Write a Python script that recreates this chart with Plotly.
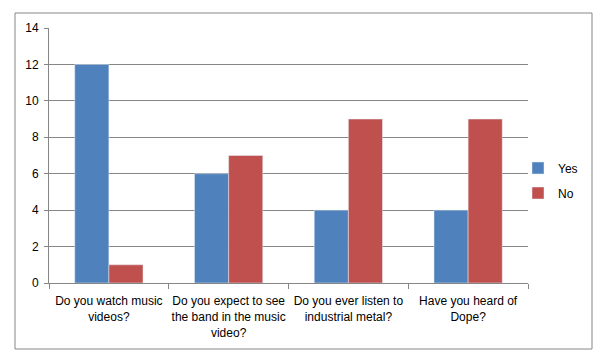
import plotly.graph_objects as go

categories = ["Do you watch music<br>videos?",
              "Do you expect to see<br>the band in the music<br>video?",
              "Do you ever listen to<br>industrial metal?",
              "Have you heard of<br>Dope?"]
yes_values = [12, 6, 4, 4]
no_values = [1, 7, 9, 9]
y_ticks = [0, 2, 4, 6, 8, 10, 12, 14]

W, H = 604, 361
L, R, T, B = 49, 528, 28, 283
pw, ph = R - L, B - T

fig = go.Figure()
fig.add_trace(go.Bar(name="Yes", x=categories, y=yes_values, marker_color="#4F81BD",
                     legendgroup="yes"))
fig.add_trace(go.Bar(name="No", x=categories, y=no_values, marker_color="#C0504D",
                     legendgroup="no"))

font = dict(family="Liberation Sans, Arial, sans-serif", size=12, color="#000000")

fig.update_layout(
    width=W, height=H,
    margin=dict(l=L, r=W - R, t=T, b=H - B, pad=0, autoexpand=False),
    paper_bgcolor="white", plot_bgcolor="white",
    barmode="group", bargap=0.43, bargroupgap=0,
    font=font,
    showlegend=True,
    legend=dict(x=(518 - L) / pw, y=(B - 180.5) / ph, xanchor="left", yanchor="middle",
                font=dict(size=12), itemwidth=30, tracegroupgap=6,
                traceorder="grouped", bgcolor="rgba(0,0,0,0)"),
    xaxis=dict(showline=True, linecolor="#868686", linewidth=1, automargin=False,
               ticks="outside", tickson="boundaries", ticklen=5, tickcolor="#868686",
               tickangle=0, ticklabelstandoff=7,
               showgrid=False, tickfont=dict(size=12), fixedrange=True),
    yaxis=dict(range=[0, 14], tickvals=y_ticks, showline=True, linecolor="#868686",
               linewidth=1, ticks="outside", ticklen=4, tickcolor="#868686",
               automargin=False, ticklabelstandoff=3,
               showgrid=True, gridcolor="#868686", gridwidth=1, zeroline=False,
               tickfont=dict(size=12), fixedrange=True),
    shapes=[dict(type="rect", xref="paper", yref="paper",
                 x0=(15 - L) / pw, x1=(592 - L) / pw,
                 y0=(B - 349) / ph, y1=(B - 13) / ph,
                 line=dict(color="#868686", width=1), fillcolor="rgba(0,0,0,0)",
                 layer="below")],
)
fig.write_html("out.html", config={"displayModeBar": False},
               post_script="document.body.style.margin='0px';")
